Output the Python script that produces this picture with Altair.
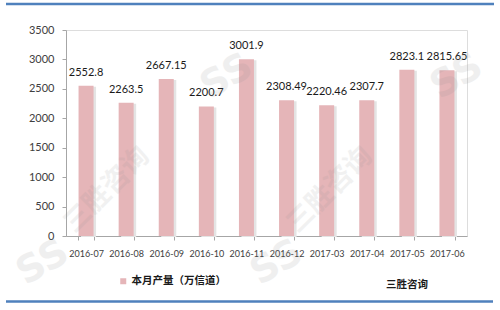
import altair as alt
import pandas as pd

# Monthly output (10k channels)
months = ["2016-07", "2016-08", "2016-09", "2016-10", "2016-11",
          "2016-12", "2017-03", "2017-04", "2017-05", "2017-06"]
values = [2552.8, 2263.5, 2667.15, 2200.7, 3001.9,
          2308.49, 2220.46, 2307.7, 2823.1, 2815.65]
labels = ["2552.8", "2263.5", "2667.15", "2200.7", "3001.9",
          "2308.49", "2220.46", "2307.7", "2823.1", "2815.65"]
series_name = "本月产量（万信道）"
brand_name = "三胜咨询"
y_ticks = [0, 500, 1000, 1500, 2000, 2500, 3000, 3500]

df = pd.DataFrame({"month": months, "value": values, "label": labels,
                   "series": [series_name] * len(months)})

W, H = 401, 206
BAR = "#E5B5B8"
NUM_FONT = "Lato"
CJK_FONT = "Noto Sans CJK SC"

x_scale = alt.Scale(paddingInner=0.62, paddingOuter=0.31)
y_scale = alt.Scale(domain=[0, 3500], nice=False)

x_enc = alt.X("month:N", sort=months, title=None, scale=x_scale,
              axis=alt.Axis(labelAngle=0, labelFontSize=9, labelFont=NUM_FONT,
                            labelColor="#404040", labelPadding=9,
                            domainColor="#A6A6A6", tickColor="#A6A6A6",
                            tickBand="extent", tickSize=4))
y_enc = alt.Y("value:Q", title=None, scale=y_scale,
              axis=alt.Axis(values=y_ticks, format="d", grid=False,
                            labelFontSize=11, labelFont=NUM_FONT,
                            labelColor="#404040",
                            domainColor="#A6A6A6", tickColor="#A6A6A6",
                            tickSize=4, labelPadding=8))

base = alt.Chart(df)

shadow = base.mark_bar(size=15, color="#E4E4E4", xOffset=2.5, yOffset=1).encode(
    x=x_enc, y=y_enc,
)

bars = base.mark_bar(size=15).encode(
    x=x_enc, y=y_enc,
    color=alt.Color("series:N",
                    scale=alt.Scale(domain=[series_name], range=[BAR]),
                    legend=alt.Legend(title=None, orient="none",
                                      legendX=52, legendY=246,
                                      symbolType="square", symbolSize=36,
                                      symbolStrokeWidth=0,
                                      labelFont=CJK_FONT, labelFontSize=10.5,
                                      labelFontWeight="bold",
                                      labelColor="#1a1a1a", labelOffset=3)),
)

text = base.mark_text(baseline="alphabetic", dy=-10, fontSize=11,
                      font=NUM_FONT, color="#1a1a1a").encode(
    x=x_enc, y=y_enc, text="label:N",
)

one_row = pd.DataFrame({"t": [brand_name]})


def stamp(px, py, content, size, angle, opacity, font=CJK_FONT):
    """Faint rotated watermark placed in plot-area pixel coordinates."""
    return alt.Chart(one_row).mark_text(
        font=font, fontSize=size, fontWeight="bold", color="#8c8c8c",
        opacity=opacity, angle=angle, align="center", baseline="middle"
    ).encode(x=alt.value(px), y=alt.value(py), text=alt.value(content))


# diagonal brand watermarks and "SS" logo stamps
marks_wm = [
    stamp(41, 160, brand_name, 27, 315, 0.11),
    stamp(264, 160, brand_name, 27, 315, 0.11),
    stamp(-23, 233, "SS", 38, 330, 0.13, font="DejaVu Sans"),
    stamp(211, 233, "SS", 38, 330, 0.13, font="DejaVu Sans"),
    stamp(161, 47, "SS", 38, 330, 0.13, font="DejaVu Sans"),
    stamp(391, 47, "SS", 38, 330, 0.13, font="DejaVu Sans"),
]

brand = alt.Chart(one_row).mark_text(
    font=CJK_FONT, fontSize=10.5, fontWeight="bold", color="#1a1a1a",
    align="center", baseline="middle"
).encode(x=alt.value(341), y=alt.value(255), text="t:N")

top_line = alt.Chart(one_row).mark_rule(
    color="#4F81BD", strokeWidth=2.5
).encode(x=alt.value(-60), x2=alt.value(428), y=alt.value(-26))

bottom_line = alt.Chart(one_row).mark_rule(
    color="#4F81BD", strokeWidth=2.5
).encode(x=alt.value(-60), x2=alt.value(427), y=alt.value(271.5))

chart = alt.layer(shadow, bars, text, *marks_wm, brand, top_line, bottom_line).properties(
    width=W, height=H,
    autosize=alt.AutoSizeParams(type="none"),
    padding={"left": 66, "top": 30, "right": 33, "bottom": 74},
).configure_view(strokeWidth=0).configure(background="white")

chart.save("out.html", embed_options={"renderer": "svg", "actions": False})
